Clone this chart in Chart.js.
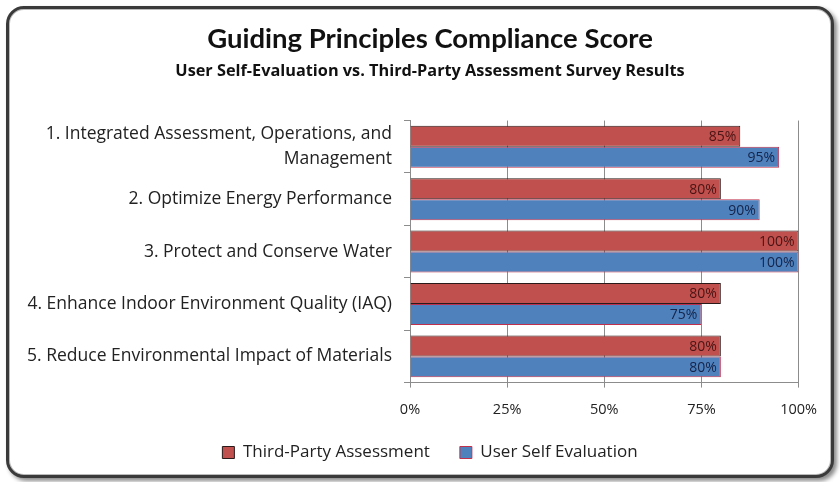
<!DOCTYPE html>
<html>
<head>
<meta charset="utf-8">
<script src="https://cdn.jsdelivr.net/npm/chart.js@4.4.1/dist/chart.umd.min.js"></script>
<style>
  html, body { margin: 0; padding: 0; background: #fff; }
  body { width: 840px; height: 482px; position: relative; overflow: hidden; }
  #frame {
    position: absolute; left: 6px; top: 6px; width: 822px; height: 466px;
    border: 3px solid #3a3a3a; border-radius: 18px; background: #fff;
    box-shadow: 3px 3px 4px #8a8a8a, inset 0 0 0 1px #bbb;
  }
  #wrap { position: absolute; left: 0; top: 0; width: 822px; height: 466px; }
</style>
</head>
<body>
<div id="frame"><div id="wrap"><canvas id="chart"></canvas></div></div>
<script>
const categories = [
  ["1. Integrated Assessment, Operations, and", "Management"],
  "2. Optimize Energy Performance",
  "3. Protect and Conserve Water",
  "4. Enhance Indoor Environment Quality (IAQ)",
  "5. Reduce Environmental Impact of Materials",
];
const thirdParty = [85, 80, 100, 80, 80];
const selfEval = [95, 90, 100, 75, 80];
const xTicks = [0, 25, 50, 75, 100];

const FONT = "'Open Sans', sans-serif";
const TITLE_FONT = "Lato, 'Open Sans', sans-serif";
const Y_SHIFT = 30; // labels hang left of the axis box so title/legend center like the original

const barLabels = {
  id: "barLabels",
  afterDatasetsDraw(chart) {
    const { ctx } = chart;
    ctx.save();
    ctx.font = `14px ${FONT}`;
    ctx.textAlign = "right";
    ctx.textBaseline = "middle";
    chart.data.datasets.forEach((ds, i) => {
      chart.getDatasetMeta(i).data.forEach((bar, j) => {
        ctx.fillStyle = i === 0 ? "#4a1414" : "#14244a";
        ctx.fillText(`${ds.data[j]}%`, bar.x - 4, bar.y + 1);
      });
    });
    ctx.restore();
  },
};

// let the y labels draw outside the (narrowed) axis box
const widenY = {
  id: "widenY",
  afterLayout(chart) { chart.scales.y.left -= 60; },
};

new Chart(document.getElementById("chart"), {
  type: "bar",
  data: {
    labels: categories,
    datasets: [
      {
        label: "Third-Party Assessment",
        data: thirdParty,
        backgroundColor: "#c0504d",
        borderColor: "#2a1a1a",
        borderWidth: 1,
        categoryPercentage: 0.8,
        barPercentage: 1.0,
      },
      {
        label: "User Self Evaluation",
        data: selfEval,
        backgroundColor: "#4f81bd",
        borderColor: "#c0304d",
        borderWidth: 1,
        categoryPercentage: 0.8,
        barPercentage: 1.0,
      },
    ],
  },
  options: {
    indexAxis: "y",
    responsive: true,
    maintainAspectRatio: false,
    animation: false,
    layout: { padding: { left: 19 + Y_SHIFT, right: 29, top: 6, bottom: 4 } },
    plugins: {
      title: {
        display: true,
        text: "Guiding Principles Compliance Score",
        color: "#111",
        font: { family: TITLE_FONT, size: 27.5, weight: "bold" },
        padding: { top: 8, bottom: 6 },
      },
      subtitle: {
        display: true,
        text: "User Self-Evaluation vs. Third-Party Assessment Survey Results",
        color: "#111",
        font: { family: FONT, size: 16.3, weight: "bold" },
        padding: { bottom: 39 },
      },
      legend: {
        position: "bottom",
        labels: {
          color: "#222",
          font: { family: FONT, size: 17 },
          boxWidth: 12,
          boxHeight: 12,
          padding: 30,
        },
      },
      tooltip: { enabled: false },
    },
    scales: {
      x: {
        min: 0,
        max: 100,
        afterBuildTicks: (axis) => { axis.ticks = xTicks.map((v) => ({ value: v })); },
        afterFit: (axis) => { axis.height -= 19; },
        ticks: { callback: (v) => `${v}%`, color: "#222", font: { family: FONT, size: 14.5 }, padding: 14 },
        grid: { color: "#8c8c8c", tickLength: 5 },
        border: { color: "#8c8c8c" },
      },
      y: {
        afterFit: (axis) => { axis.width -= 20; },
        ticks: { autoSkip: false, color: "#222", font: { family: FONT, size: 17.5, lineHeight: 1.4 }, padding: 12 },
        grid: { drawOnChartArea: false, color: "#8c8c8c", tickLength: 6 },
        border: { color: "#8c8c8c" },
      },
    },
  },
  plugins: [barLabels, widenY],
});
</script>
</body>
</html>
